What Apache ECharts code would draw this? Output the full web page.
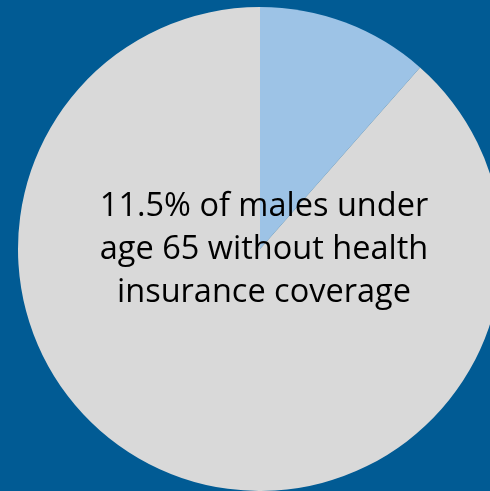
<!DOCTYPE html>
<html>
<head>
<meta charset="utf-8">
<style>
  html, body { margin: 0; padding: 0; background: #015B94; }
  #chart { width: 490px; height: 491px; }
</style>
<script src="https://cdn.jsdelivr.net/npm/echarts@6/dist/echarts.min.js"></script>
</head>
<body>
<div id="chart"></div>
<script>
// Share of males under 65 by health insurance coverage (%)
const categories = ['Without health insurance coverage', 'With health insurance coverage'];
const values = [11.5, 88.5];
const colors = ['#9DC3E6', '#D9D9D9'];

const chart = echarts.init(document.getElementById('chart'), null, { renderer: 'canvas' });

chart.setOption({
  backgroundColor: '#015B94',
  animation: false,
  title: {
    text: values[0] + '% of males under\nage 65 without health\ninsurance coverage',
    left: 259,
    top: 180,
    textAlign: 'center',
    textStyle: {
      fontFamily: 'Open Sans',
      fontWeight: 'normal',
      fontSize: 32.5,
      lineHeight: 43,
      color: '#000000'
    }
  },
  series: [{
    type: 'pie',
    center: [260, 249],
    radius: [0, 242],
    startAngle: 90,
    clockwise: true,
    silent: true,
    label: { show: false },
    labelLine: { show: false },
    itemStyle: { borderWidth: 0 },
    data: categories.map((name, i) => ({
      name: name,
      value: values[i],
      itemStyle: { color: colors[i] }
    }))
  }]
});
</script>
</body>
</html>
